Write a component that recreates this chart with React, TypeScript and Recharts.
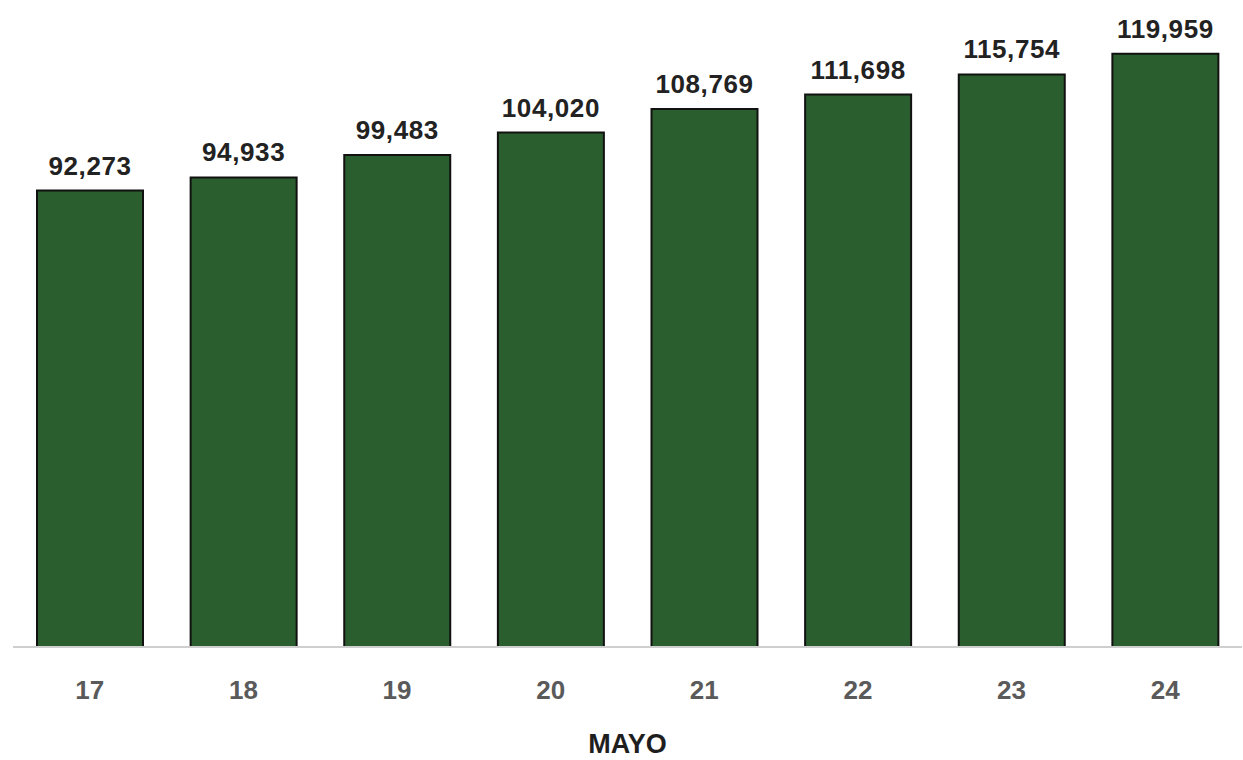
import { Bar, BarChart, LabelList, Label, XAxis, YAxis } from 'recharts';

const days = ['17', '18', '19', '20', '21', '22', '23', '24'];
const totals = [92273, 94933, 99483, 104020, 108769, 111698, 115754, 119959];

const data = days.map((day, i) => ({ day, total: totals[i] }));

const fmt = (v: number) => v.toLocaleString('en-US');

export default function App() {
  return (
    <div style={{ position: 'absolute', left: 0, top: 0, background: '#fff', fontFamily: '"Liberation Sans", Arial, sans-serif' }}>
      <BarChart width={1243} height={760} data={data} margin={{ top: 4, right: 1, bottom: 0, left: 13 }}>
        <YAxis hide domain={[0, 130000]} />
        <XAxis
          dataKey="day"
          height={113}
          tickLine={false}
          axisLine={{ stroke: '#cfcfcf', strokeWidth: 2 }}
          tickMargin={28}
          tick={{ fill: '#5a5a5a', fontSize: 26, fontWeight: 'bold' }}
        >
          <Label value="MAYO" position="insideBottom" offset={7} fill="#1e1e1e" fontSize={27} fontWeight="bold" />
        </XAxis>
        <Bar dataKey="total" fill="#2b5e2e" stroke="#111111" strokeWidth={2} barSize={106} isAnimationActive={false}>
          <LabelList
            dataKey="total"
            position="top"
            offset={16}
            formatter={(v: any) => fmt(Number(v))}
            fill="#222222"
            fontSize={26}
            fontWeight="bold"
            letterSpacing={0.6}
          />
        </Bar>
      </BarChart>
    </div>
  );
}
